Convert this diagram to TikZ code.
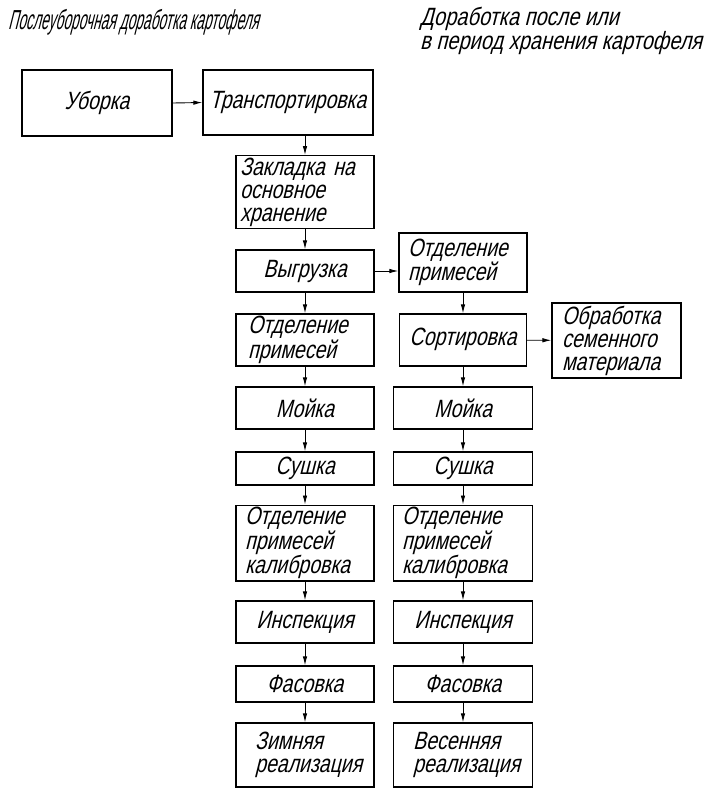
\documentclass[tikz,border=0pt]{standalone}
\usepackage{fontspec}
\newfontfamily\gost{Liberation Sans}[FakeSlant=0.25,FakeStretch=0.78]
\newfontfamily\gostA{Liberation Sans}[FakeSlant=0.25,FakeStretch=0.5]
\newfontfamily\gostB{Liberation Sans}[FakeSlant=0.25,FakeStretch=0.8]
\usetikzlibrary{arrows.meta}
\begin{document}
\begin{tikzpicture}[x=1pt,y=-1pt,
  blk/.style={draw=black,line width=1.3pt,rectangle,inner sep=2pt,align=left,
    font=\gost\fontsize{25}{23}\selectfont},
  arr/.style={line width=0.9pt,-{Latex[length=9pt,width=4.5pt]}}]
\useasboundingbox (0,0) rectangle (709,788);
% titles
\node[inner sep=0pt,anchor=base west,font=\gostA\fontsize{27.5}{21}\selectfont] (t1) at (8,29) {Послеуборочная доработка картофеля};
\node[inner sep=0pt,anchor=north west,align=left,font=\gostB\fontsize{25}{21}\selectfont] (t2) at (420,7) {Доработка после или\\в период хранения картофеля};
% left column
\node[blk,minimum width=150pt,minimum height=66pt] (ub) at (97,103) {Уборка};
\node[blk,minimum width=170pt,minimum height=65pt] (tr) at (288,102.5) {\raisebox{6pt}{Транспортировка}};
\node[blk,minimum width=138pt,minimum height=70pt,text width=130pt] (zk) at (305,192) {Закладка на\\основное\\хранение};
\node[blk,minimum width=138pt,minimum height=42pt] (vg) at (305,271) {Выгрузка};
\node[blk,minimum width=138pt,minimum height=52pt,text width=114pt] (op1) at (305,340) {Отделение\\примесей};
\node[blk,minimum width=138pt,minimum height=42pt] (mo1) at (305,408) {Мойка};
\node[blk,minimum width=138pt,minimum height=33pt] (su1) at (305,468.5) {Сушка};
\node[blk,minimum width=138pt,minimum height=70pt,text width=120pt] (ok1) at (305,543) {Отделение\\примесей\\калибровка};
\node[blk,minimum width=138pt,minimum height=42pt] (in1) at (305,622) {Инспекция};
\node[blk,minimum width=138pt,minimum height=36pt] (fa1) at (305,684) {Фасовка};
\node[blk,minimum width=138pt,minimum height=64pt,text width=100pt] (zr) at (305,755) {Зимняя\\реализация};
% right column
\node[blk,minimum width=128pt,minimum height=59pt,text width=110pt] (op2) at (463,262.5) {Отделение\\примесей};
\node[blk,minimum width=127pt,minimum height=52pt] (so) at (463,340) {\raisebox{6pt}{Сортировка}};
\node[blk,minimum width=129pt,minimum height=75pt,text width=109pt] (ob) at (616.5,340.5) {Обработка\\семенного\\материала};
\node[blk,minimum width=139pt,minimum height=42pt] (mo2) at (463,408) {Мойка};
\node[blk,minimum width=139pt,minimum height=33pt] (su2) at (463,468.5) {Сушка};
\node[blk,minimum width=139pt,minimum height=70pt,text width=122pt] (ok2) at (463,543) {Отделение\\примесей\\калибровка};
\node[blk,minimum width=139pt,minimum height=42pt] (in2) at (463,622) {Инспекция};
\node[blk,minimum width=139pt,minimum height=36pt] (fa2) at (463,684) {Фасовка};
\node[blk,minimum width=139pt,minimum height=64pt,text width=100pt] (vr) at (463,755) {Весенняя\\реализация};
% connectors
\draw[arr] (ub.east) -- (tr.west);
\draw[arr] (tr.south -| zk.north) -- (zk.north);
\draw[arr] (zk) -- (vg);
\draw[arr] (vg) -- (op1);
\draw[arr] (op1) -- (mo1);
\draw[arr] (mo1) -- (su1);
\draw[arr] (su1) -- (ok1);
\draw[arr] (ok1) -- (in1);
\draw[arr] (in1) -- (fa1);
\draw[arr] (fa1) -- (zr);
\draw[arr] (vg.east) -- (vg.east -| op2.west);
\draw[arr] (op2) -- (so);
\draw[arr] (so) -- (ob);
\draw[arr] (so) -- (mo2);
\draw[arr] (mo2) -- (su2);
\draw[arr] (su2) -- (ok2);
\draw[arr] (ok2) -- (in2);
\draw[arr] (in2) -- (fa2);
\draw[arr] (fa2) -- (vr);
\end{tikzpicture}
\end{document}
